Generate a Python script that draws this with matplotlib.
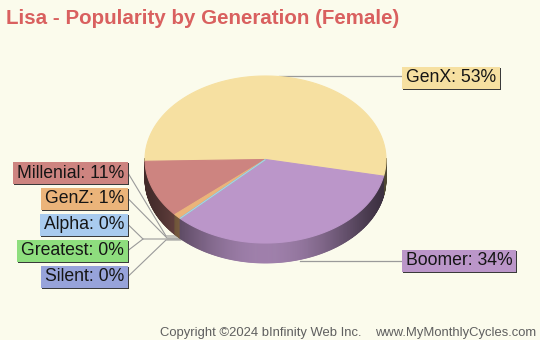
import numpy as np
import matplotlib
matplotlib.use('Agg')
import matplotlib.pyplot as plt
from matplotlib.patches import Polygon, Rectangle

# generation shares (percent), in drawing order counter-clockwise
generations = ['GenX', 'Millenial', 'GenZ', 'Alpha', 'Greatest', 'Silent', 'Boomer']
shares = [53, 11, 1, 0, 0, 0, 34]
colors = ['#f6e0a1', '#cd8480', '#ebb47a', '#a9cbee', '#8ede7e', '#97a3da', '#bb96c9']

bg = '#fbfbec'
plt.rcParams['font.family'] = ['Liberation Sans', 'DejaVu Sans']

fig = plt.figure(figsize=(5.4, 3.4), dpi=100, facecolor=bg)
ax = fig.add_axes([0, 0, 1, 1])
ax.set_xlim(0, 540)
ax.set_ylim(340, 0)
ax.axis('off')

# pie geometry (pixels)
cx, cy, rx, ry, depth = 265.5, 159.5, 120.5, 83.5, 20
start = -11.5

vals = np.array(shares, dtype=float)
angles = start + np.concatenate([[0], np.cumsum(vals / vals.sum() * 360)])


def pt(a):
    a = np.radians(a)
    return cx + rx * np.cos(a), cy - ry * np.sin(a)


def shade(a):
    s = max(0.0, -np.sin(np.radians(a)))
    return 0.32 + 0.53 * s ** 3


# side wall, drawn in thin strips for the gradient
for i, c in enumerate(colors):
    a0, a1 = angles[i], angles[i + 1]
    if a1 - a0 <= 0:
        continue
    base = np.array(matplotlib.colors.to_rgb(c))
    steps = np.arange(a0, a1, 0.5)
    steps = np.append(steps, a1)
    for s0, s1 in zip(steps[:-1], steps[1:]):
        mid = (s0 + s1) / 2
        if np.sin(np.radians(mid)) > 0.02:
            continue
        x0, y0 = pt(s0)
        x1, y1 = pt(s1)
        col = np.clip(base * shade(mid), 0, 1)
        ax.add_patch(Polygon([(x0, y0), (x1, y1), (x1, y1 + depth), (x0, y0 + depth)],
                             closed=True, facecolor=col, edgecolor=col, lw=0.6, zorder=2))

# top face
for i, c in enumerate(colors):
    a0, a1 = angles[i], angles[i + 1]
    arc = np.linspace(a0, a1, max(2, int(abs(a1 - a0)) + 2))
    xs, ys = pt(arc)
    verts = [(cx, cy)] + list(zip(xs, ys))
    ax.add_patch(Polygon(verts, closed=True, facecolor=c, edgecolor=c, lw=0.8,
                         zorder=10 - i * 0.1 if vals[i] == 0 else 5))

# labels
fs = 12.7
line_col = '#9a9a9a'


def label(x, y, text, color, ha):
    t = ax.text(x, y, text, fontsize=fs, color='#151515', ha=ha, va='center', zorder=12)
    return t, color


labels = []
labels.append(label(406, 77.5, f'{generations[0]}: {shares[0]}%', colors[0], 'left'))
labels.append(label(406, 260.5, f'{generations[6]}: {shares[6]}%', colors[6], 'left'))
left_y = [173, 198.5, 224.5, 250.5, 276.5]
for k, y in zip(range(1, 6), left_y):
    labels.append(label(124, y, f'{generations[k]}: {shares[k]}%', colors[k], 'right'))

fig.canvas.draw()
inv = ax.transData.inverted()
for t, c in labels:
    bb = t.get_window_extent()
    (x0, y1), (x1, y0) = inv.transform([(bb.x0, bb.y0), (bb.x1, bb.y1)])
    x0 -= 4
    x1 += 3.5
    y0 = t.get_position()[1] - 11
    y1 = t.get_position()[1] + 11
    ax.add_patch(Rectangle((x0 + 1, y0 + 1), x1 - x0, y1 - y0, facecolor='#3a3a3a',
                           edgecolor='none', zorder=10.5))
    ax.add_patch(Rectangle((x0, y0), x1 - x0, y1 - y0, facecolor=c,
                           edgecolor='none', zorder=11))

# leader lines
ax.plot([279, 402], [76, 76], color=line_col, lw=0.9, zorder=1)
ax.plot([300, 402], [261, 261], color=line_col, lw=0.9, zorder=1)
ax.plot([128, 166, 181], [173, 236, 236], color=line_col, lw=0.8, zorder=1)
ax.plot([128, 167, 181], [198.5, 238, 238], color=line_col, lw=0.8, zorder=1)
ax.plot([128, 143, 181], [224.5, 239, 239], color=line_col, lw=0.8, zorder=1)
ax.plot([128, 143], [250.5, 239], color=line_col, lw=0.8, zorder=1)
ax.plot([128, 166, 181], [276.5, 240, 240], color=line_col, lw=0.8, zorder=1)

# title and footer
ax.text(6, 23.5, 'Lisa - Popularity by Generation (Female)', fontsize=14.8,
        fontweight='bold', color='#d9605f', ha='left', va='baseline')
ax.text(160, 336, 'Copyright ©2024 bInfinity Web Inc.', fontsize=9.4,
        color='#5f5f5f', ha='left', va='baseline')
ax.text(536, 336, 'www.MyMonthlyCycles.com', fontsize=9.4,
        color='#5f5f5f', ha='right', va='baseline')

fig.savefig('out.png', dpi=100, facecolor=bg)
